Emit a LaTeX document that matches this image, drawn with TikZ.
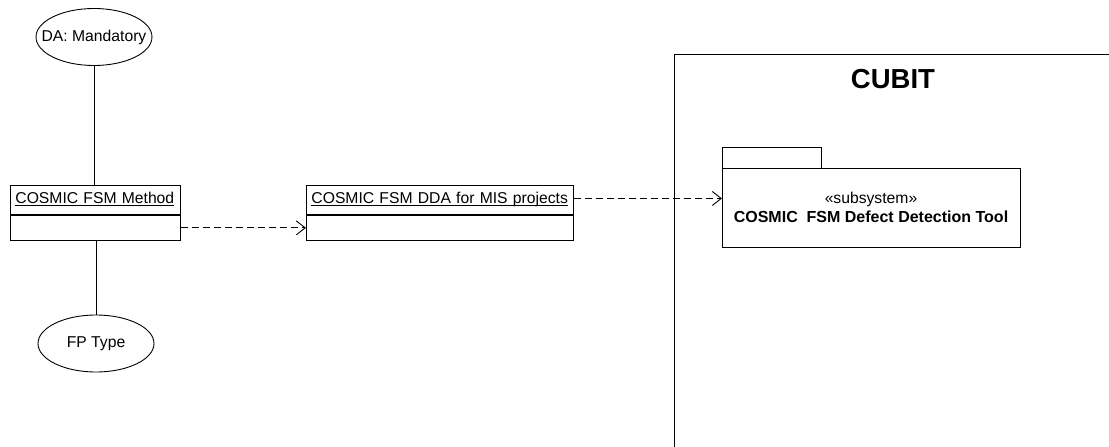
\documentclass[tikz,border=0pt]{standalone}
\usepackage{fontspec}
\setmainfont{Liberation Sans}
\usetikzlibrary{arrows.meta,shapes.geometric}
\newcommand{\ulname}[1]{\underline{\smash{#1}}}
\tikzset{
  x=1pt, y=-1pt,
  every node/.style={font=\fontsize{15.7}{19}\selectfont},
  line/.style={line width=0.9pt},
  namebox/.style={draw, line width=0.9pt, anchor=north west, minimum height=29pt,
    inner xsep=5pt, inner ysep=0pt, text height=12pt, text depth=4pt, align=left},
  attrbox/.style={draw, line width=0.9pt, anchor=north, minimum height=25pt, inner sep=0pt},
  attr/.style={draw, ellipse, line width=0.9pt, minimum width=116pt, minimum height=57pt, inner sep=0pt},
  dep/.style={line width=0.9pt, dash pattern=on 7pt off 4pt,
    -{Straight Barb[length=9pt,width=14pt]}},
}
\begin{document}
\begin{tikzpicture}
\clip (0,0) rectangle (1109,447);
\fill[white] (0,0) rectangle (1109,447);

% system frame
\node[draw, line width=1.3pt, anchor=north west, minimum width=460pt, minimum height=420pt, inner sep=0pt] (cubit) at (674,54) {};
\node[font=\fontsize{27.5}{30}\selectfont\bfseries, anchor=base] (cubittitle) at (893,88) {CUBIT};

% subsystem package
\node[draw, line width=0.9pt, anchor=north west, minimum width=99pt, minimum height=21pt, inner sep=0pt] (pkgtab) at (722,147) {};
\node[draw, line width=0.9pt, anchor=north west, minimum width=298pt, minimum height=79pt, inner sep=0pt] (pkg) at (722,168) {};
\node[anchor=base] (pkgster) at (871,203) {«subsystem»};
\node[anchor=base, font=\fontsize{16}{19}\selectfont\bfseries] (pkgname) at (871,222) {COSMIC\ \ FSM Defect Detection Tool};

% classes
\node[namebox, text width=160pt] (mname) at (10,185) {\ulname{COSMIC FSM Method}};
\node[attrbox, minimum width=170pt] (mattr) at (mname.south) {};
\node[namebox, text width=257pt] (dname) at (306,185) {\ulname{COSMIC FSM DDA for MIS projects}};
\node[attrbox, minimum width=267pt] (dattr) at (dname.south) {};

% attribute ellipses
\node[attr] (da) at (94,37) {};
\node (dalabel) at (da) {DA: Mandatory};
\node[attr] (fp) at (96,343.5) {};
\node (fplabel) at (fp) {FP Type};

% links
\draw[line] (da.south) -- (da.south |- mname.north);
\draw[line] (fp.north) -- (fp.north |- mattr.south);
\draw[dep] (mattr.east) -- (dattr.west);
\draw[dep] ([yshift=1.5pt]dname.east) -- ([yshift=1.5pt]dname.east -| pkg.west);
\end{tikzpicture}
\end{document}
